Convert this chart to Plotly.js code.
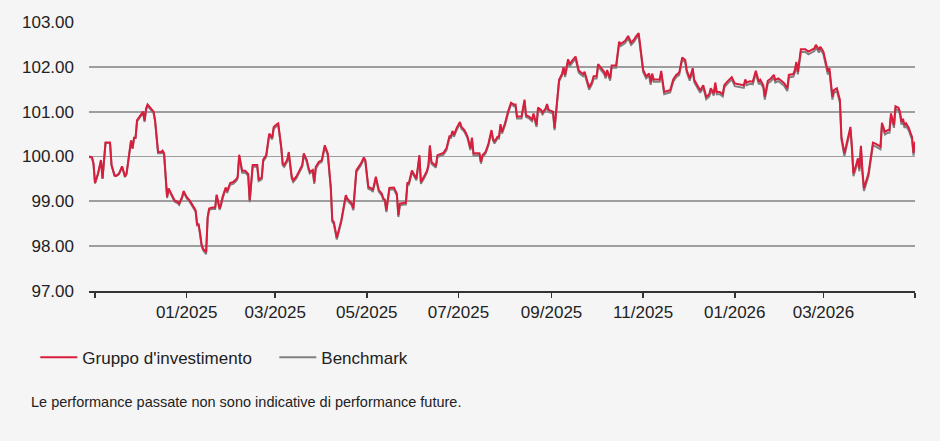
<!DOCTYPE html>
<html>
<head>
<meta charset="utf-8">
<script src="https://cdn.plot.ly/plotly-3.0.1.min.js"></script>
<style>html,body{margin:0;padding:0;background:#f5f5f5;}#chart{width:940px;height:441px;}</style>
</head>
<body>
<div id="chart"></div>
<script>
var dates = [
"2024-10-28","2024-10-30","2024-10-31","2024-11-01","2024-11-03","2024-11-05","2024-11-06","2024-11-08","2024-11-11","2024-11-12",
"2024-11-14","2024-11-15","2024-11-17","2024-11-19","2024-11-21","2024-11-22","2024-11-25","2024-11-26","2024-11-27","2024-11-28",
"2024-11-29","2024-12-01","2024-12-03","2024-12-04","2024-12-05","2024-12-06","2024-12-08","2024-12-10","2024-12-11","2024-12-13",
"2024-12-15","2024-12-16","2024-12-17","2024-12-19","2024-12-20","2024-12-22","2024-12-24","2024-12-26","2024-12-27","2024-12-29",
"2024-12-30","2025-01-01","2025-01-03","2025-01-05","2025-01-07","2025-01-08","2025-01-09","2025-01-10","2025-01-11","2025-01-12",
"2025-01-14","2025-01-15","2025-01-16","2025-01-18","2025-01-20","2025-01-21","2025-01-23","2025-01-24","2025-01-25","2025-01-27",
"2025-01-28","2025-01-30","2025-02-01","2025-02-03","2025-02-04","2025-02-05","2025-02-07","2025-02-09","2025-02-11","2025-02-12",
"2025-02-14","2025-02-17","2025-02-18","2025-02-20","2025-02-21","2025-02-23","2025-02-25","2025-02-27","2025-02-28","2025-03-02",
"2025-03-03","2025-03-05","2025-03-06","2025-03-07","2025-03-09","2025-03-10","2025-03-12","2025-03-13","2025-03-14","2025-03-15",
"2025-03-17","2025-03-19","2025-03-20","2025-03-22","2025-03-23","2025-03-24","2025-03-26","2025-03-27","2025-03-28","2025-03-30",
"2025-04-01","2025-04-02","2025-04-03","2025-04-05","2025-04-07","2025-04-08","2025-04-09","2025-04-11","2025-04-14","2025-04-17",
"2025-04-18","2025-04-21","2025-04-22","2025-04-24","2025-04-26","2025-04-27","2025-04-29","2025-04-30","2025-05-02","2025-05-04",
"2025-05-05","2025-05-07","2025-05-09","2025-05-11","2025-05-12","2025-05-13","2025-05-14","2025-05-16","2025-05-19","2025-05-21",
"2025-05-22","2025-05-23","2025-05-26","2025-05-27","2025-05-28","2025-05-29","2025-05-31","2025-06-01","2025-06-03","2025-06-05",
"2025-06-06","2025-06-08","2025-06-10","2025-06-11","2025-06-12","2025-06-13","2025-06-15","2025-06-16","2025-06-17","2025-06-19",
"2025-06-21","2025-06-23","2025-06-25","2025-06-26","2025-06-27","2025-06-28","2025-06-30","2025-07-02","2025-07-03","2025-07-05",
"2025-07-07","2025-07-09","2025-07-10","2025-07-11","2025-07-13","2025-07-15","2025-07-16","2025-07-17","2025-07-19","2025-07-21",
"2025-07-23","2025-07-24","2025-07-25","2025-07-27","2025-07-28","2025-07-29","2025-07-30","2025-08-01","2025-08-03","2025-08-05",
"2025-08-07","2025-08-08","2025-08-09","2025-08-12","2025-08-14","2025-08-15","2025-08-17","2025-08-19","2025-08-20","2025-08-22",
"2025-08-23","2025-08-25","2025-08-26","2025-08-28","2025-08-29","2025-08-30","2025-09-02","2025-09-03","2025-09-06","2025-09-08",
"2025-09-09","2025-09-10","2025-09-12","2025-09-13","2025-09-15","2025-09-17","2025-09-19","2025-09-20","2025-09-22","2025-09-23",
"2025-09-26","2025-09-28","2025-09-29","2025-10-01","2025-10-02","2025-10-04","2025-10-06","2025-10-07","2025-10-08","2025-10-10",
"2025-10-11","2025-10-14","2025-10-15","2025-10-16","2025-10-17","2025-10-19","2025-10-20","2025-10-22","2025-10-24","2025-10-26",
"2025-10-27","2025-10-29","2025-10-31","2025-11-01","2025-11-03","2025-11-05","2025-11-06","2025-11-07","2025-11-08","2025-11-12",
"2025-11-13","2025-11-15","2025-11-17","2025-11-19","2025-11-21","2025-11-23","2025-11-25","2025-11-27","2025-11-29","2025-11-30",
"2025-12-02","2025-12-04","2025-12-05","2025-12-07","2025-12-09","2025-12-11","2025-12-13","2025-12-15","2025-12-16","2025-12-18",
"2025-12-19","2025-12-20","2025-12-22","2025-12-24","2025-12-25","2025-12-27","2025-12-30","2026-01-01","2026-01-04","2026-01-07",
"2026-01-08","2026-01-09","2026-01-11","2026-01-13","2026-01-15","2026-01-17","2026-01-18","2026-01-20","2026-01-21","2026-01-23",
"2026-01-25","2026-01-27","2026-01-28","2026-01-30","2026-02-01","2026-02-03","2026-02-05","2026-02-06","2026-02-09","2026-02-10",
"2026-02-11","2026-02-12","2026-02-14","2026-02-17","2026-02-19","2026-02-21","2026-02-23","2026-02-24","2026-02-26","2026-02-27",
"2026-03-01","2026-03-02","2026-03-03","2026-03-04","2026-03-05","2026-03-07","2026-03-08","2026-03-10","2026-03-12","2026-03-13",
"2026-03-15","2026-03-16","2026-03-18","2026-03-19","2026-03-20","2026-03-21","2026-03-23","2026-03-24","2026-03-25","2026-03-26",
"2026-03-27","2026-03-28","2026-03-31","2026-04-01","2026-04-03","2026-04-05","2026-04-08","2026-04-09","2026-04-11","2026-04-13",
"2026-04-14","2026-04-15","2026-04-17","2026-04-18","2026-04-20","2026-04-21","2026-04-22","2026-04-23","2026-04-24","2026-04-25",
"2026-04-27","2026-04-28","2026-04-29","2026-04-30","2026-05-01"
];

var fund = [
100.00,99.98,99.84,99.41,99.62,99.92,99.51,100.31,100.31,99.81,
99.58,99.57,99.62,99.78,99.55,99.62,100.36,100.18,100.42,100.42,
100.81,100.92,101.00,100.80,101.07,101.16,101.09,101.00,100.81,100.10,
100.10,100.13,100.07,99.10,99.29,99.14,99.02,98.99,98.95,99.10,
99.23,99.10,99.02,98.91,98.80,98.49,98.49,98.28,98.03,97.94,
97.87,98.65,98.84,98.86,98.86,99.15,98.84,98.95,99.10,99.31,
99.23,99.41,99.43,99.49,99.55,100.04,99.68,99.68,99.61,99.02,
99.81,99.81,99.49,99.53,99.93,100.03,100.51,100.42,100.66,100.72,
100.74,100.22,99.84,99.81,99.93,100.10,99.55,99.47,99.51,99.55,
99.68,99.81,100.07,99.92,99.77,99.66,99.70,99.43,99.77,99.88,
99.92,100.13,100.25,100.07,99.32,98.58,98.54,98.19,98.58,99.14,
99.06,98.95,98.84,99.69,99.78,99.84,99.98,99.92,99.32,99.29,
99.25,99.55,99.25,99.17,99.06,99.04,98.80,99.30,99.31,99.17,
98.69,98.95,98.97,98.97,99.41,99.41,99.69,99.62,99.51,100.03,
99.43,99.55,99.68,99.81,100.25,99.88,99.83,99.79,100.03,100.05,
100.08,100.18,100.45,100.45,100.57,100.48,100.65,100.77,100.66,100.59,
100.45,100.18,100.42,100.07,100.07,100.07,99.88,100.03,100.10,100.29,
100.59,100.40,100.33,100.44,100.44,100.72,100.55,100.74,101.00,101.20,
101.16,101.16,100.89,100.89,101.27,100.92,100.89,100.83,100.96,100.70,
101.09,101.04,100.98,101.07,101.17,101.04,101.00,100.63,101.71,101.85,
101.99,101.82,102.17,102.06,102.15,102.23,101.93,101.89,101.84,101.89,
101.54,101.67,101.79,101.79,102.06,101.97,101.89,101.79,101.93,101.74,
102.03,102.03,102.26,102.56,102.51,102.56,102.58,102.69,102.54,102.61,
102.67,102.75,102.11,101.93,101.79,101.85,101.65,101.85,101.72,101.72,
101.91,101.44,101.46,101.48,101.72,101.82,101.87,102.21,102.15,101.93,
101.74,101.97,101.71,101.59,101.47,101.59,101.33,101.39,101.52,101.41,
101.65,101.44,101.44,101.39,101.59,101.67,101.77,101.63,101.61,101.59,
101.72,101.65,101.68,101.67,101.91,101.67,101.71,101.59,101.33,101.69,
101.74,101.82,101.71,101.74,101.69,101.63,101.52,101.82,101.84,101.93,
102.11,101.89,102.39,102.39,102.34,102.38,102.41,102.49,102.38,102.45,
102.34,102.19,102.04,101.89,101.97,101.33,101.48,101.52,101.26,100.44,
100.07,100.22,100.48,100.66,100.22,99.62,99.84,99.96,99.73,100.24,
99.69,99.29,99.62,99.84,100.31,100.28,100.22,100.75,100.55,100.59,
100.59,100.96,100.70,101.12,101.09,101.00,100.77,100.84,100.70,100.74,
100.63,100.53,100.44,100.08,100.33
];

var benchmark = [
99.99,99.97,99.83,99.40,99.61,99.91,99.50,100.30,100.30,99.80,
99.57,99.56,99.61,99.77,99.54,99.61,100.35,100.17,100.41,100.41,
100.78,100.89,100.97,100.77,101.04,101.13,101.06,100.97,100.78,100.07,
100.07,100.10,100.04,99.07,99.26,99.11,98.99,98.96,98.92,99.07,
99.20,99.07,98.99,98.88,98.77,98.46,98.46,98.25,98.00,97.91,
97.82,98.62,98.81,98.83,98.83,99.12,98.81,98.92,99.07,99.28,
99.19,99.37,99.39,99.45,99.51,100.00,99.64,99.64,99.57,98.98,
99.77,99.77,99.45,99.49,99.89,99.99,100.47,100.38,100.62,100.68,
100.70,100.18,99.80,99.77,99.89,100.06,99.51,99.43,99.47,99.51,
99.64,99.77,100.03,99.88,99.73,99.62,99.66,99.39,99.73,99.84,
99.88,100.09,100.21,100.03,99.28,98.54,98.50,98.15,98.54,99.10,
99.02,98.91,98.80,99.65,99.74,99.80,99.94,99.88,99.28,99.25,
99.21,99.51,99.21,99.13,99.02,99.00,98.76,99.26,99.27,99.13,
98.65,98.91,98.93,98.93,99.37,99.37,99.65,99.58,99.47,99.99,
99.39,99.51,99.64,99.77,100.21,99.84,99.79,99.75,99.99,100.01,
100.04,100.14,100.41,100.41,100.53,100.44,100.61,100.73,100.62,100.55,
100.41,100.14,100.38,100.03,100.03,100.03,99.84,99.99,100.06,100.25,
100.55,100.36,100.29,100.40,100.40,100.68,100.51,100.70,100.96,101.16,
101.12,101.12,100.85,100.85,101.23,100.88,100.85,100.79,100.92,100.66,
101.05,101.00,100.94,101.03,101.13,101.00,100.96,100.59,101.67,101.81,
101.94,101.77,102.12,102.01,102.10,102.18,101.88,101.84,101.79,101.84,
101.49,101.62,101.74,101.74,102.01,101.92,101.84,101.74,101.88,101.69,
101.98,101.98,102.21,102.51,102.46,102.51,102.53,102.64,102.49,102.56,
102.62,102.70,102.06,101.88,101.74,101.80,101.60,101.80,101.67,101.67,
101.86,101.39,101.41,101.43,101.67,101.77,101.82,102.16,102.10,101.88,
101.69,101.92,101.66,101.54,101.42,101.54,101.28,101.34,101.47,101.36,
101.60,101.39,101.39,101.34,101.54,101.62,101.72,101.57,101.55,101.53,
101.66,101.59,101.62,101.61,101.85,101.61,101.65,101.53,101.27,101.63,
101.68,101.76,101.65,101.68,101.63,101.57,101.46,101.76,101.78,101.87,
102.05,101.83,102.33,102.33,102.28,102.32,102.35,102.43,102.32,102.39,
102.28,102.13,101.98,101.83,101.91,101.27,101.42,101.46,101.20,100.38,
100.01,100.16,100.42,100.60,100.16,99.56,99.78,99.90,99.67,100.18,
99.63,99.23,99.56,99.78,100.25,100.22,100.16,100.69,100.49,100.53,
100.53,100.90,100.64,101.06,101.03,100.94,100.71,100.78,100.64,100.68,
100.57,100.47,100.38,100.02,100.27
];

var xTickVals = ["2024-11-01","2025-01-01","2025-03-01","2025-05-01","2025-07-01","2025-09-01","2025-11-01","2026-01-01","2026-03-01","2026-05-01"];
var xTickText = ["","01/2025","03/2025","05/2025","07/2025","09/2025","11/2025","01/2026","03/2026",""];
var yTickVals = [97,98,99,100,101,102,103];
var yTickText = ["97.00","98.00","99.00","100.00","101.00","102.00","103.00"];
var seriesNames = ["Gruppo d'investimento","Benchmark"];
var footnote = "Le performance passate non sono indicative di performance future.";

var FONT = "Liberation Sans, Arial, sans-serif";

var traces = [
  {x: dates, y: benchmark, type: "scatter", mode: "lines", name: seriesNames[1],
   line: {color: "#808080", width: 2}, legendrank: 2, hoverinfo: "skip"},
  {x: dates, y: fund, type: "scatter", mode: "lines", name: seriesNames[0],
   line: {color: "#d81e3c", width: 2}, legendrank: 1, hoverinfo: "skip"}
];

var layout = {
  width: 940, height: 441,
  paper_bgcolor: "#f5f5f5", plot_bgcolor: "#f5f5f5",
  margin: {l: 89, r: 25, t: 22, b: 150, pad: 0},
  font: {family: FONT, size: 17, color: "#222"},
  showlegend: true,
  xaxis: {
    type: "date",
    range: ["2024-10-28", "2026-05-01"],
    tickmode: "array", tickvals: xTickVals, ticktext: xTickText,
    ticks: "outside", ticklen: 5, tickwidth: 1.5, tickcolor: "#333",
    showline: true, linecolor: "#333", linewidth: 2,
    showgrid: false, zeroline: false,
    tickfont: {family: FONT, size: 17, color: "#222"}
  },
  yaxis: {
    range: [97, 103],
    tickmode: "array", tickvals: yTickVals, ticktext: yTickText,
    ticks: "", showline: false, zeroline: false,
    showgrid: true, gridcolor: "#9e9e9e", gridwidth: 1.8,
    ticklabelstandoff: 14,
    tickfont: {family: FONT, size: 17, color: "#222"}
  },
  legend: {
    orientation: "h", x: -0.065, xanchor: "left", y: -0.1814, yanchor: "top",
    font: {family: FONT, size: 17, color: "#222"},
    bgcolor: "rgba(0,0,0,0)", itemwidth: 37,
    entrywidth: 187, entrywidthmode: "pixels"
  },
  annotations: [{
    text: footnote, xref: "paper", yref: "paper",
    x: -0.0726, xanchor: "left", y: -0.4126, yanchor: "middle",
    showarrow: false, font: {family: FONT, size: 14.5, color: "#222"}
  }]
};

Plotly.newPlot("chart", traces, layout, {displayModeBar: false, staticPlot: true});
</script>
</body>
</html>
